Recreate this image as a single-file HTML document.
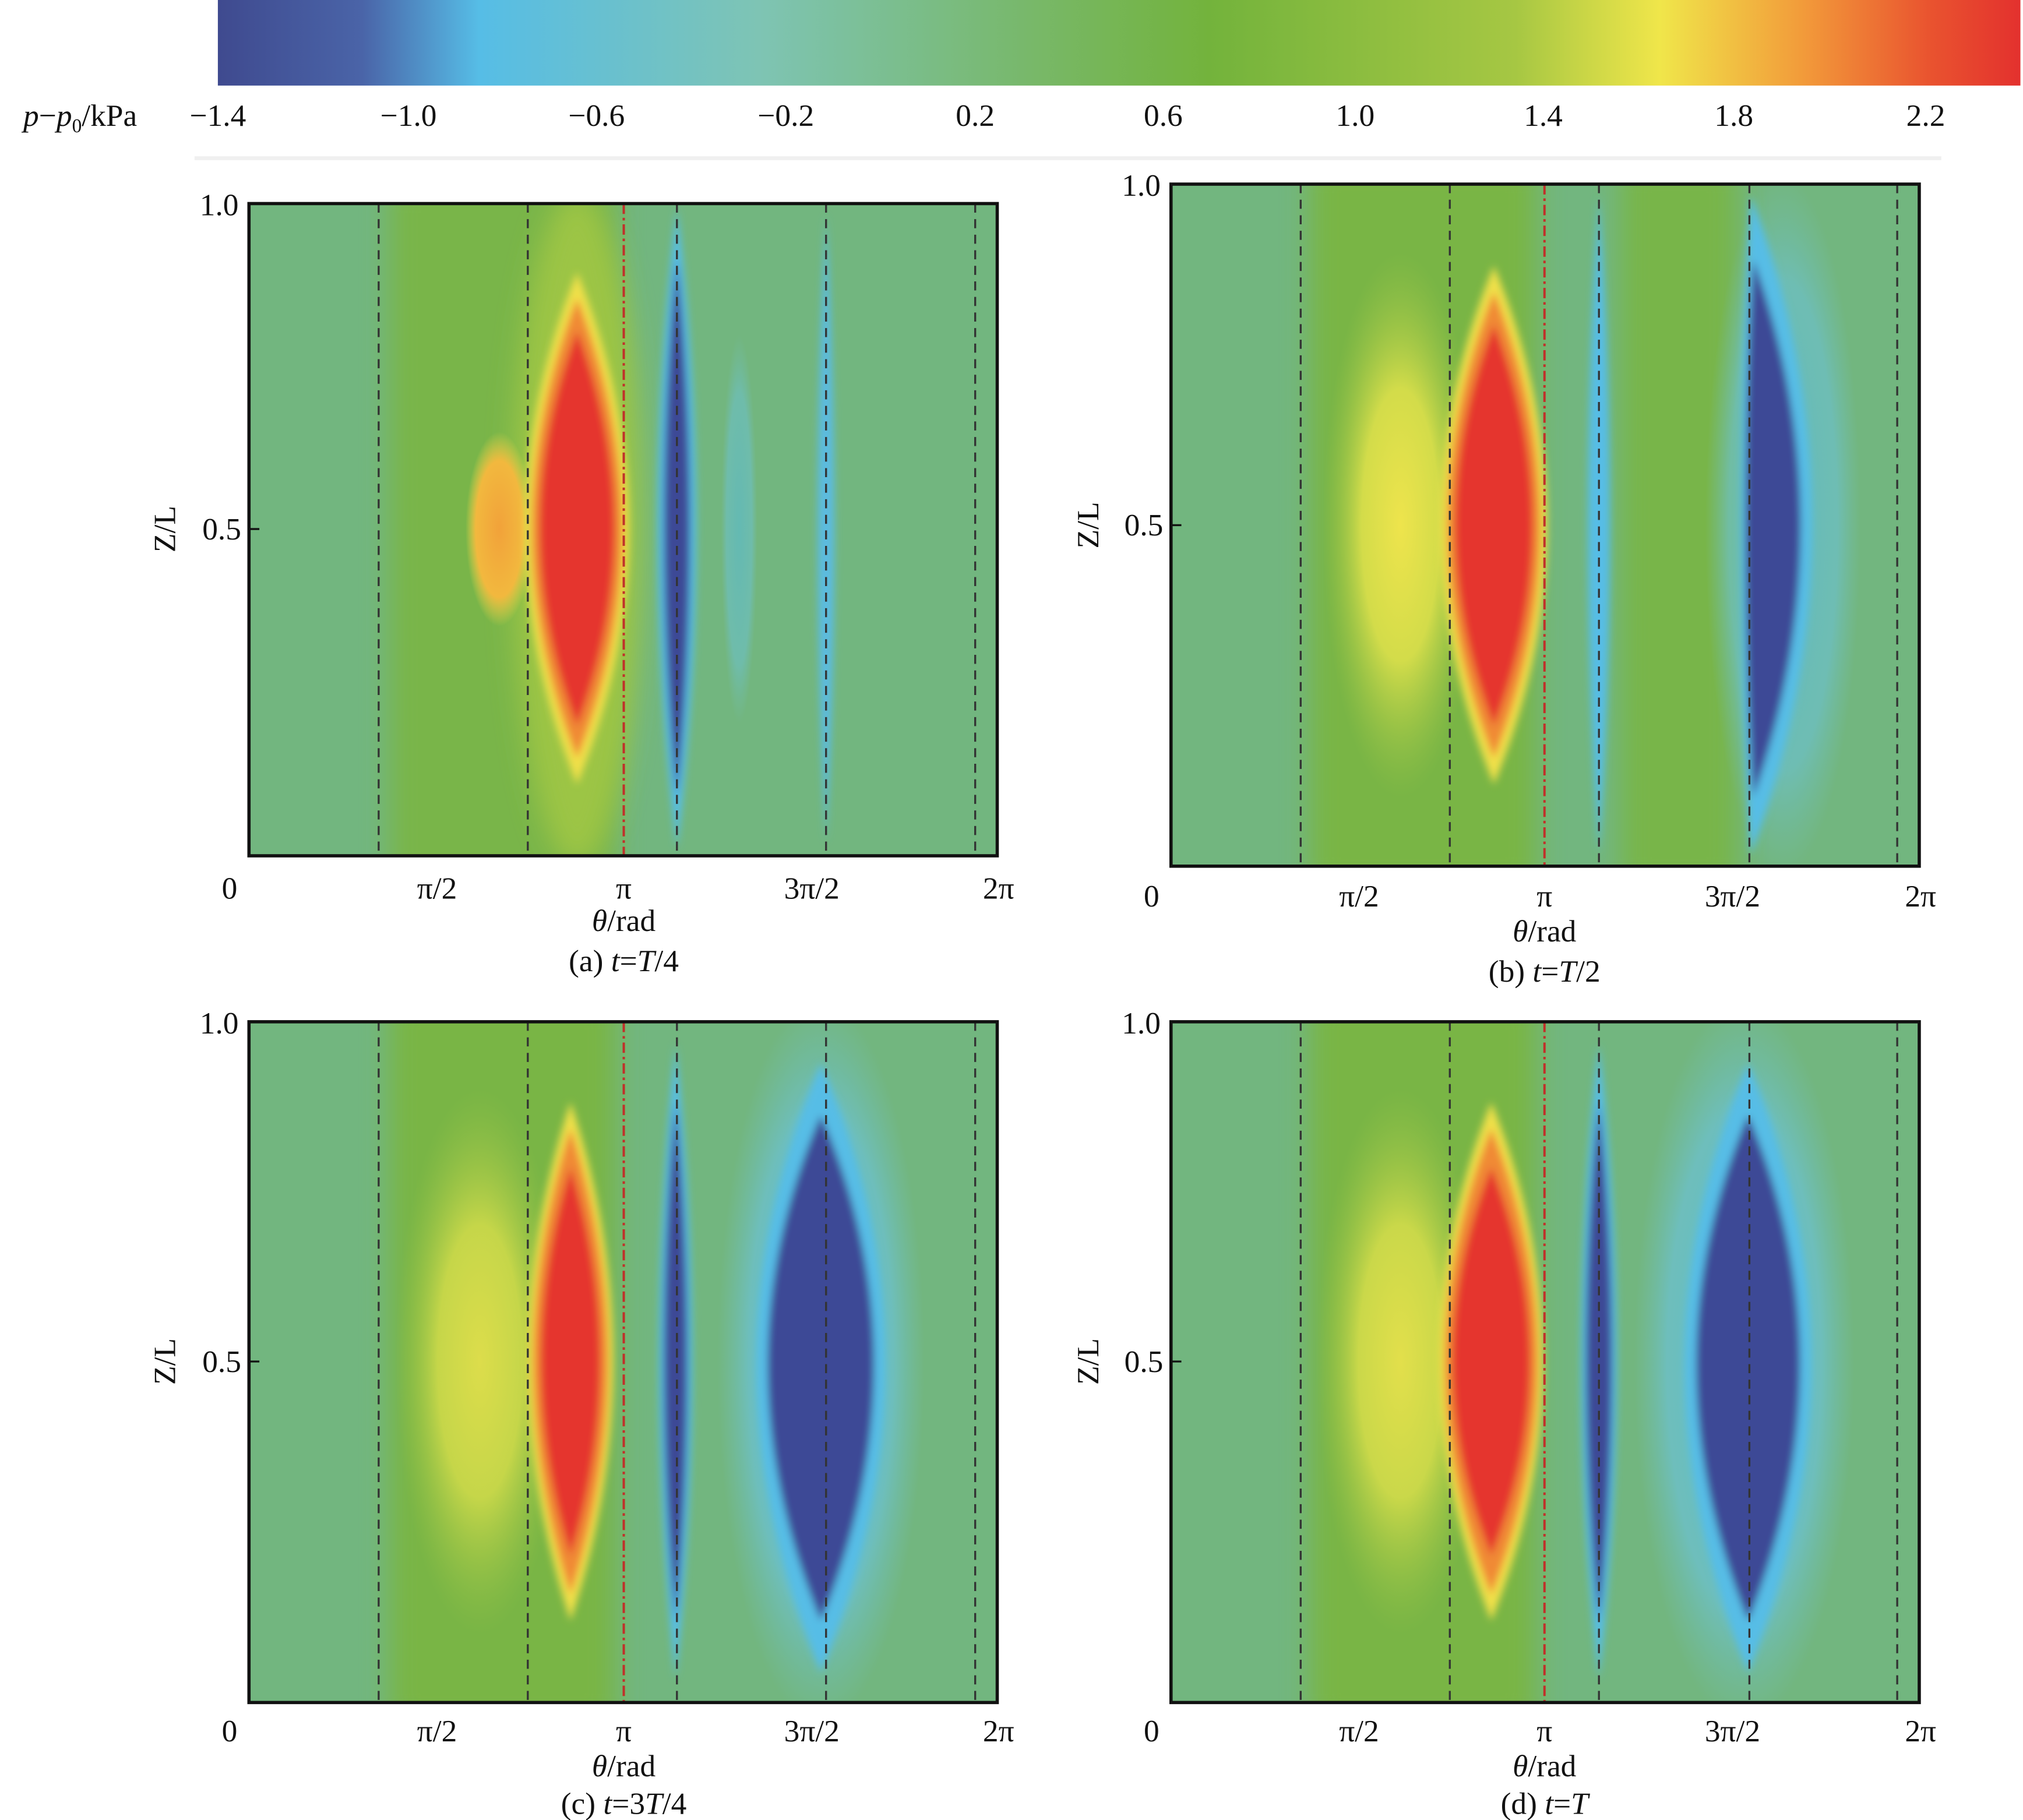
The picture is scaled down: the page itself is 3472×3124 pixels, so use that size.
<!DOCTYPE html>
<html><head><meta charset="utf-8"><style>html,body{margin:0;padding:0;background:#fff}svg{display:block}</style></head><body>
<svg xmlns="http://www.w3.org/2000/svg" width="3472" height="3124" viewBox="0 0 1560 1403.6" preserveAspectRatio="none" font-family="Liberation Serif, serif">
<defs>
<linearGradient id="cb" x1="0" x2="1" y1="0" y2="0">
<stop offset="0" stop-color="#3f4a8f"/><stop offset="0.08" stop-color="#4a64a8"/><stop offset="0.145" stop-color="#56bde6"/>
<stop offset="0.3" stop-color="#7ec4b4"/><stop offset="0.45" stop-color="#78b86a"/><stop offset="0.55" stop-color="#73b33c"/>
<stop offset="0.72" stop-color="#a6c743"/><stop offset="0.8" stop-color="#f0e64a"/><stop offset="0.88" stop-color="#f29a3a"/>
<stop offset="0.95" stop-color="#e9532f"/><stop offset="1" stop-color="#e3312e"/></linearGradient>
<radialGradient id="cyan"><stop offset="0" stop-color="#56bde6"/><stop offset="0.7" stop-color="#6cc2d6"/><stop offset="1" stop-color="#72c0c0" stop-opacity="0"/></radialGradient>
<radialGradient id="yel"><stop offset="0" stop-color="#eee44c"/><stop offset="0.5" stop-color="#d3dc4a"/><stop offset="1" stop-color="#9cc545" stop-opacity="0"/></radialGradient>
<radialGradient id="org"><stop offset="0" stop-color="#f2a23a"/><stop offset="0.7" stop-color="#f2b83e"/><stop offset="1" stop-color="#f0d848" stop-opacity="0"/></radialGradient>
<filter id="bl" x="-50%" y="-50%" width="200%" height="200%"><feGaussianBlur stdDeviation="10"/></filter>
<filter id="bs" x="-50%" y="-50%" width="200%" height="200%"><feGaussianBlur stdDeviation="3"/></filter>
<clipPath id="ca"><rect x="192" y="157" width="577" height="503"/></clipPath>
<clipPath id="cb2"><rect x="903" y="142" width="577" height="526"/></clipPath>
<clipPath id="cc"><rect x="192" y="788" width="577" height="525"/></clipPath>
<clipPath id="cd"><rect x="903" y="788" width="577" height="525"/></clipPath>
</defs>
<rect width="1560" height="1403.6" fill="#fff"/>
<rect x="168" y="0" width="1390" height="66" fill="url(#cb)"/>
<line x1="150" y1="122" x2="1497" y2="122" stroke="#f0f0f0" stroke-width="3"/>
<g font-size="24" text-anchor="middle" fill="#111">
<text x="18" y="97" text-anchor="start"><tspan font-style="italic">p</tspan>−<tspan font-style="italic">p</tspan><tspan font-size="15" dy="5">0</tspan><tspan dy="-5">/kPa</tspan></text>
<text x="168" y="97">−1.4</text><text x="315" y="97">−1.0</text><text x="460" y="97">−0.6</text><text x="606" y="97">−0.2</text><text x="752" y="97">0.2</text><text x="897" y="97">0.6</text><text x="1045" y="97">1.0</text><text x="1190" y="97">1.4</text><text x="1337" y="97">1.8</text><text x="1485" y="97">2.2</text>
</g>
<!-- Panel a -->
<g clip-path="url(#ca)">
<rect x="192" y="157" width="577" height="503" fill="#72b67f"/>
<rect x="300" y="140" width="175" height="540" fill="#79b548" filter="url(#bl)"/>
<ellipse cx="445" cy="408" rx="50" ry="260" fill="#9cc545" filter="url(#bl)"/>
<ellipse cx="385" cy="408" rx="26" ry="75" fill="url(#org)"/>
<g filter="url(#bs)">
<path d="M445,210 Q525,408 445,605 Q365,408 445,210Z" fill="#f0e04a"/>
<path d="M445,230 Q515,408 445,585 Q375,408 445,230Z" fill="#f08a36"/>
<path d="M445,255 Q503,408 445,560 Q387,408 445,255Z" fill="#e5362e"/>
</g>
<ellipse cx="570" cy="408" rx="14" ry="150" fill="url(#cyan)" opacity="0.5"/>
<g filter="url(#bs)">
<path d="M522,160 Q552,408 522,655 Q492,408 522,160Z" fill="#56bde6"/>
<path d="M522,200 Q542,408 522,615 Q502,408 522,200Z" fill="#3d4a96"/>
<path d="M637,165 Q650,408 637,650 Q624,408 637,165Z" fill="#5bbbe0"/>
</g>
</g>
<!-- Panel b -->
<g clip-path="url(#cb2)">
<rect x="903" y="142" width="577" height="526" fill="#72b67f"/>
<rect x="1010" y="125" width="175" height="560" fill="#79b545" filter="url(#bl)"/>
<rect x="1250" y="125" width="90" height="560" fill="#78b548" filter="url(#bl)"/>
<ellipse cx="1080" cy="405" rx="60" ry="210" fill="url(#yel)"/>
<g filter="url(#bs)">
<path d="M1152,205 Q1234,405 1152,605 Q1070,405 1152,205Z" fill="#f0e04a"/>
<path d="M1152,225 Q1224,405 1152,585 Q1080,405 1152,225Z" fill="#f08a36"/>
<path d="M1152,250 Q1212,405 1152,560 Q1092,405 1152,250Z" fill="#e5362e"/>
<path d="M1233,150 Q1250,405 1233,660 Q1216,405 1233,150Z" fill="#56bde6"/>
</g>
<ellipse cx="1375" cy="405" rx="60" ry="270" fill="url(#cyan)" opacity="0.6"/>
<g filter="url(#bs)">
<path d="M1350,150 Q1335,405 1350,660 Q1445,405 1350,150Z" fill="#56bde6"/>
<path d="M1352,200 Q1340,405 1352,615 Q1425,405 1352,200Z" fill="#3d4a96"/>
</g>
</g>
<!-- Panel c -->
<g clip-path="url(#cc)">
<rect x="192" y="788" width="577" height="525" fill="#72b67f"/>
<rect x="300" y="770" width="175" height="560" fill="#79b545" filter="url(#bl)"/>
<ellipse cx="370" cy="1050" rx="65" ry="210" fill="url(#yel)" opacity="0.85"/>
<g filter="url(#bs)">
<path d="M440,850 Q506,1050 440,1250 Q374,1050 440,850Z" fill="#f0e04a"/>
<path d="M440,870 Q498,1050 440,1230 Q382,1050 440,870Z" fill="#f08a36"/>
<path d="M440,900 Q486,1050 440,1200 Q394,1050 440,900Z" fill="#e5362e"/>
<path d="M521,805 Q547,1050 521,1295 Q495,1050 521,805Z" fill="#56bde6"/>
<path d="M521,850 Q539,1050 521,1250 Q503,1050 521,850Z" fill="#3d4a96"/>
</g>
<ellipse cx="633" cy="1050" rx="80" ry="280" fill="url(#cyan)" opacity="0.7"/>
<g filter="url(#bs)">
<path d="M633,820 Q733,1050 633,1290 Q533,1050 633,820Z" fill="#56bde6"/>
<path d="M633,860 Q715,1050 633,1250 Q551,1050 633,860Z" fill="#3d4a96"/>
</g>
</g>
<!-- Panel d -->
<g clip-path="url(#cd)">
<rect x="903" y="788" width="577" height="525" fill="#72b67f"/>
<rect x="1010" y="770" width="175" height="560" fill="#79b545" filter="url(#bl)"/>
<ellipse cx="1080" cy="1050" rx="65" ry="210" fill="url(#yel)" opacity="0.9"/>
<g filter="url(#bs)">
<path d="M1150,850 Q1230,1050 1150,1250 Q1070,1050 1150,850Z" fill="#f0e04a"/>
<path d="M1150,870 Q1222,1050 1150,1230 Q1078,1050 1150,870Z" fill="#f08a36"/>
<path d="M1150,900 Q1210,1050 1150,1200 Q1090,1050 1150,900Z" fill="#e5362e"/>
<path d="M1233,805 Q1261,1050 1233,1295 Q1205,1050 1233,805Z" fill="#56bde6"/>
<path d="M1233,850 Q1253,1050 1233,1250 Q1213,1050 1233,850Z" fill="#3d4a96"/>
</g>
<ellipse cx="1345" cy="1050" rx="85" ry="280" fill="url(#cyan)" opacity="0.7"/>
<g filter="url(#bs)">
<path d="M1348,820 Q1446,1050 1348,1290 Q1250,1050 1348,820Z" fill="#56bde6"/>
<path d="M1348,860 Q1428,1050 1348,1250 Q1268,1050 1348,860Z" fill="#3d4a96"/>
</g>
</g>
<!-- dashed lines and frames -->
<g stroke="#333" stroke-width="1.5" stroke-dasharray="7,5" fill="none">
<path d="M292 157V660M407 157V660M522 157V660M637 157V660M752 157V660"/>
<path d="M1003 142V668M1118 142V668M1233 142V668M1349 142V668M1463 142V668"/>
<path d="M292 788V1313M407 788V1313M522 788V1313M637 788V1313M752 788V1313"/>
<path d="M1003 788V1313M1118 788V1313M1233 788V1313M1349 788V1313M1463 788V1313"/>
</g>
<g stroke="#c0302a" stroke-width="1.8" stroke-dasharray="8,3,2,3" fill="none">
<path d="M481 157V660M1191 142V668M481 788V1313M1191 788V1313"/>
</g>
<g stroke="#111" stroke-width="2.5" fill="none">
<rect x="192" y="157" width="577" height="503"/><rect x="903" y="142" width="577" height="526"/>
<rect x="192" y="788" width="577" height="525"/><rect x="903" y="788" width="577" height="525"/>
</g>
<g stroke="#111" stroke-width="1.5">
<path d="M192 408h8M903 405h8M192 1050h8M903 1050h8"/>
</g>
<g font-size="24" fill="#111" text-anchor="middle">
<text x="177" y="693">0</text><text x="337" y="693">π/2</text><text x="481" y="693">π</text><text x="626" y="693">3π/2</text><text x="770" y="693">2π</text>
<text x="481" y="718"><tspan font-style="italic">θ</tspan>/rad</text><text x="481" y="749">(a) <tspan font-style="italic">t</tspan>=<tspan font-style="italic">T</tspan>/4</text>
<text x="184" y="166" text-anchor="end">1.0</text><text x="186" y="416" text-anchor="end">0.5</text>
<text transform="translate(135,408) rotate(-90)">Z/L</text>
<text x="888" y="699">0</text><text x="1048" y="699">π/2</text><text x="1191" y="699">π</text><text x="1336" y="699">3π/2</text><text x="1481" y="699">2π</text>
<text x="1191" y="726"><tspan font-style="italic">θ</tspan>/rad</text><text x="1191" y="757">(b) <tspan font-style="italic">t</tspan>=<tspan font-style="italic">T</tspan>/2</text>
<text x="895" y="151" text-anchor="end">1.0</text><text x="897" y="413" text-anchor="end">0.5</text>
<text transform="translate(847,405) rotate(-90)">Z/L</text>
<text x="177" y="1343">0</text><text x="337" y="1343">π/2</text><text x="481" y="1343">π</text><text x="626" y="1343">3π/2</text><text x="770" y="1343">2π</text>
<text x="481" y="1370"><tspan font-style="italic">θ</tspan>/rad</text><text x="481" y="1399">(c) <tspan font-style="italic">t</tspan>=3<tspan font-style="italic">T</tspan>/4</text>
<text x="184" y="797" text-anchor="end">1.0</text><text x="186" y="1058" text-anchor="end">0.5</text>
<text transform="translate(135,1050) rotate(-90)">Z/L</text>
<text x="888" y="1343">0</text><text x="1048" y="1343">π/2</text><text x="1191" y="1343">π</text><text x="1336" y="1343">3π/2</text><text x="1481" y="1343">2π</text>
<text x="1191" y="1370"><tspan font-style="italic">θ</tspan>/rad</text><text x="1191" y="1399">(d) <tspan font-style="italic">t</tspan>=<tspan font-style="italic">T</tspan></text>
<text x="895" y="797" text-anchor="end">1.0</text><text x="897" y="1058" text-anchor="end">0.5</text>
<text transform="translate(847,1050) rotate(-90)">Z/L</text>
</g>
</svg>
</body></html>
